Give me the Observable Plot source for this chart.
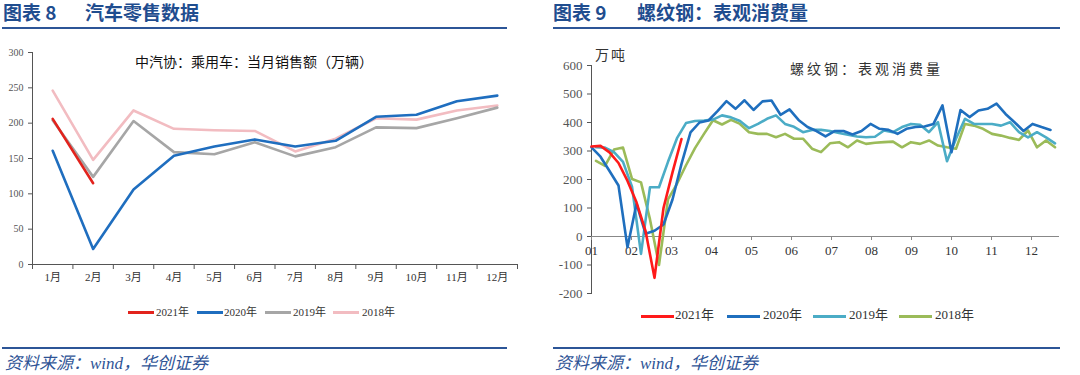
<!DOCTYPE html>
<html><head><meta charset="utf-8">
<script src="https://cdn.jsdelivr.net/npm/d3@7"></script>
<script src="https://cdn.jsdelivr.net/npm/@observablehq/plot@0.6"></script>
<style>
body{margin:0;background:#fff;width:1080px;height:375px;overflow:hidden;position:relative;font-family:"Noto Sans CJK SC",sans-serif;}
.abs{position:absolute;white-space:nowrap;}
.title{font-size:19px;font-weight:700;color:#1f4d8f;line-height:22px;}
.rule{height:2px;background:#2c5597;}
.caption{font-size:17px;font-style:italic;color:#2f5496;font-family:"Liberation Serif","Noto Sans CJK SC";line-height:18px;}
.leg{font-family:"Liberation Serif","Noto Sans CJK SC";color:#333;line-height:12px;}
.sw{height:3px;}
</style></head><body>
<script>
// ---------- data: left chart (中汽协 乘用车 当月销售额, 万辆) ----------
const carMonths = ["1月","2月","3月","4月","5月","6月","7月","8月","9月","10月","11月","12月"];
const carTicks = [0, 50, 100, 150, 200, 250, 300];
const car2021 = [206, 115];
const car2020 = [161, 22, 106, 154, 167, 177, 167, 175, 209, 212, 231, 239];
const car2019 = [204, 124, 203, 159, 156, 173, 153, 166, 194, 193, 207, 222];
const car2018 = [246, 148, 218, 192, 190, 189, 160, 178, 207, 205, 218, 225];

// ---------- data: right chart (螺纹钢 表观消费量, 万吨, weekly) ----------
const steelMonths = ["01","02","03","04","05","06","07","08","09","10","11","12"];
const steelTicks = [-200, -100, 0, 100, 200, 300, 400, 500, 600];
const steel2021 = [316, 318, 295, 258, 195, 120, 20, -145, 100, 225, 342];
const steel2020 = [313, 280, 230, 179, -38, 115, 10, 20, 42, 130, 255, 365, 400, 407, 440, 475, 448, 478, 444, 474, 477, 427, 446, 409, 384, 370, 351, 370, 370, 358, 370, 395, 378, 374, 360, 378, 384, 386, 395, 460, 296, 444, 419, 442, 448, 466, 430, 401, 370, 395, 384, 374];
const steel2019 = [313, 312, 296, 262, 175, -61, 173, 173, 262, 345, 398, 405, 407, 410, 425, 418, 405, 380, 395, 413, 425, 395, 385, 366, 374, 374, 370, 363, 357, 351, 348, 350, 372, 366, 384, 395, 392, 366, 401, 264, 343, 413, 395, 395, 395, 389, 401, 366, 348, 366, 348, 327];
const steel2018 = [265, 248, 305, 312, 202, 190, 60, -100, 130, 185, 250, 310, 360, 408, 393, 409, 395, 366, 360, 360, 348, 360, 343, 343, 308, 296, 327, 331, 313, 337, 325, 329, 331, 333, 313, 331, 325, 337, 319, 313, 308, 395, 389, 378, 360, 354, 346, 339, 372, 313, 337, 313];
const steelStartWeek = {"2021年": 0, "2020年": 0, "2019年": 0.5, "2018年": 0.5};
const WEEK = 0.225; // months per weekly observation

// ---------- helpers ----------
function el(cls, css, text){
  const d = document.createElement("div");
  d.className = "abs " + (cls||"");
  Object.assign(d.style, css);
  if (text != null) d.textContent = text;
  document.body.appendChild(d);
  return d;
}

// ---------- headers / footers ----------
el("title", {left:"3px", top:"1px"}, "图表 8");
el("title", {left:"85px", top:"1px"}, "汽车零售数据");
el("rule", {left:"2px", top:"27px", width:"505px"});
el("title", {left:"553px", top:"1px"}, "图表 9");
el("title", {left:"637px", top:"1px"}, "螺纹钢：表观消费量");
el("rule", {left:"553px", top:"27px", width:"507px"});

el("rule", {left:"2px", top:"347px", width:"505px"});
el("rule", {left:"553px", top:"347px", width:"507px"});
el("caption", {left:"5px", top:"355px"}, "资料来源：wind，华创证券");
el("caption", {left:"555px", top:"355px"}, "资料来源：wind，华创证券");

// ---------- left chart ----------
const carSeries = [
  {name:"2018年", values:car2018, color:"#f2bcc1"},
  {name:"2019年", values:car2019, color:"#a6a6a6"},
  {name:"2020年", values:car2020, color:"#1f6ebf"},
  {name:"2021年", values:car2021, color:"#e2231d"}
];
const leftPlot = Plot.plot({
  width:530, height:255, marginLeft:32, marginRight:13, marginTop:12, marginBottom:31,
  style:{fontFamily:"Liberation Serif, Noto Sans CJK SC", fontSize:"10px", color:"#555", background:"transparent", overflow:"visible"},
  x:{domain:[0.5, 12.5], ticks:d3.range(0.5, 13, 1), tickFormat:() => "", tickSize:5, line:true, label:null},
  y:{domain:[0, 300], ticks:carTicks, tickSize:4, tickPadding:5, line:true, label:null},
  marks:[
    ...carSeries.map(s => Plot.line(s.values, {x:(d,i) => i+1, y:d => d, stroke:s.color, strokeWidth:2.6})),
    Plot.text(carMonths, {x:(d,i) => i+1, text:d => d, frameAnchor:"bottom", dy:16, fontSize:11, fill:"#333"})
  ]
});
el("", {left:"0px", top:"40px"}).appendChild(leftPlot);
el("", {left:"135px", top:"51px", fontSize:"14px", color:"#111", fontFamily:"Noto Sans CJK SC"}, "中汽协：乘用车：当月销售额（万辆）");

// left legend
const leftLeg = [[128,156],[197,224],[265,293],[333,362]];
["2021年","2020年","2019年","2018年"].forEach((n,i) => {
  const s = carSeries.find(c => c.name === n);
  el("sw", {left:leftLeg[i][0]+"px", top:"311px", width:"26px", background:s.color});
  el("leg", {left:leftLeg[i][1]+"px", top:"306px", fontSize:"11px"}, n);
});

// ---------- right chart ----------
const steelSeries = [
  {name:"2018年", values:steel2018, color:"#9bbb59"},
  {name:"2019年", values:steel2019, color:"#4bacc6"},
  {name:"2020年", values:steel2020, color:"#1f6fbe"},
  {name:"2021年", values:steel2021, color:"#ff1a1a"}
];
const rightPlot = Plot.plot({
  width:525, height:265, marginLeft:46, marginRight:11, marginTop:25, marginBottom:12,
  style:{fontFamily:"Liberation Serif, Noto Sans CJK SC", fontSize:"13px", color:"#555", background:"transparent", overflow:"visible"},
  x:{domain:[0, 11.7], axis:null},
  y:{domain:[-200, 600], ticks:steelTicks, tickFormat:d => String(d), tickSize:4, tickPadding:5, line:true, label:null},
  marks:[
    Plot.ruleY([0], {stroke:"#888"}),
    Plot.ruleX(steelMonths, {x:(d,i) => i, y1:() => 0, y2:() => 0, insetBottom:-4, stroke:"#888"}),
    Plot.text(steelMonths, {x:(d,i) => i, y:() => 0, text:d => d, dy:14, fontSize:13, fill:"#333"}),
    ...steelSeries.map(s => Plot.line(s.values, {x:(d,i) => (steelStartWeek[s.name] + i) * WEEK, y:d => d, stroke:s.color, strokeWidth:2.6}))
  ]
});
el("", {left:"545px", top:"40px"}).appendChild(rightPlot);
el("", {left:"595px", top:"44px", fontSize:"14px", color:"#333", letterSpacing:"2px"}, "万吨");
el("", {left:"790px", top:"58px", fontSize:"14px", color:"#333", letterSpacing:"3px"}, "螺纹钢：表观消费量");

// right legend
const rightLeg = [[641,675],[727,763],[813,849],[899,935]];
["2021年","2020年","2019年","2018年"].forEach((n,i) => {
  const s = steelSeries.find(c => c.name === n);
  el("sw", {left:rightLeg[i][0]+"px", top:"315px", width:"33px", background:s.color});
  el("leg", {left:rightLeg[i][1]+"px", top:"309px", fontSize:"13px"}, n);
});
</script>
</body></html>
